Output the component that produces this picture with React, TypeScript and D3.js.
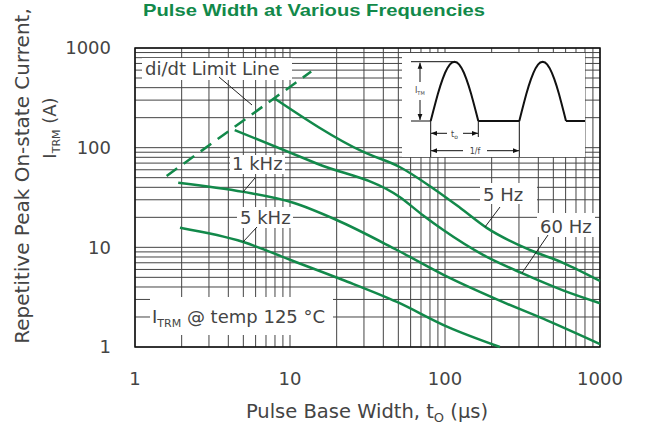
import React from 'react';
import * as d3 from 'd3';

// pulse base width (µs) vs peak current (A)
const diDtLimit: [number, number][] = [[1.6, 52], [13.7, 580]];
const curve5Hz: [number, number][] = [[8, 310], [30, 90], [51, 64], [84, 39], [125, 25], [187, 15.6], [353, 9.4], [577, 7], [1000, 4.6]];
const curve60Hz: [number, number][] = [[4.4, 150], [15, 69], [51, 32], [72, 21], [97, 15], [176, 8.4], [314, 5.5], [577, 3.7], [1000, 2.75]];
const curve1kHz: [number, number][] = [[1.9, 44.5], [5, 36], [10.5, 28], [20, 18.8], [49, 9.4], [108, 4.9], [216, 3], [455, 1.85], [1000, 1.07]];
const curve5kHz: [number, number][] = [[1.95, 15.7], [5, 11.3], [10, 7.5], [22, 4.7], [49, 2.83], [103, 1.6], [226, 1]];

const xTickLabels = [1, 10, 100, 1000];
const yTickLabels = [1, 10, 100, 1000];

const GREEN = '#12894a';
const FONT = 'DejaVu Sans, Verdana, sans-serif';
const TITLE_FONT = 'Liberation Sans, Arial, sans-serif';
const TXT = '#444';
const W = 645;
const H = 427;

const App: React.FC = () => {
  const x = d3.scaleLog().domain([1, 1000]).range([135, 600]);
  const y = d3.scaleLog().domain([1, 1000]).range([347, 48]);

  const line = d3.line<[number, number]>()
    .x(d => x(d[0]))
    .y(d => y(d[1]))
    .curve(d3.curveMonotoneX);

  const gridX = x.ticks();
  const gridY = y.ticks();

  // white label boxes that hide the grid
  const boxes = [
    { x: 142, y: 58, w: 150, h: 22 },
    { x: 230, y: 155, w: 55, h: 19 },
    { x: 237, y: 207, w: 56, h: 21 },
    { x: 480, y: 183, w: 57, h: 21 },
    { x: 537, y: 213, w: 58, h: 24 },
    { x: 150, y: 297, w: 183, h: 38 },
    { x: 402, y: 53, w: 183, h: 104 },
  ];

  // inset waveform (illustration)
  const base = 121;
  const peak = 61.7;
  const arch = (x0: number, x1: number) => {
    const pts: [number, number][] = d3.range(0, 21).map(k => {
      const u = k / 20;
      return [x0 + (x1 - x0) * u, base - (base - peak) * Math.sin(Math.PI * u)];
    });
    return d3.line()(pts) as string;
  };

  const leaders = [
    [219, 77, 252, 105],
    [255, 178, 243, 192],
    [257, 227, 243, 242],
    [500, 207, 485, 227],
    [548, 235, 522, 273],
  ];

  return (
    <svg width={W} height={H} style={{ position: 'absolute', left: 0, top: 0, background: '#fff' }}>
      <defs>
        <marker id="arr" viewBox="0 0 10 10" refX="10" refY="5" markerWidth="7" markerHeight="6" orient="auto-start-reverse">
          <path d="M0,1 L10,5 L0,9 Z" fill="#111" />
        </marker>
      </defs>

      <text x={314} y={16} textAnchor="middle" fontFamily={TITLE_FONT} fontWeight="bold" fontSize={17}
        fill={GREEN} textLength={342} lengthAdjust="spacingAndGlyphs">
        Pulse Width at Various Frequencies
      </text>

      {/* grid */}
      <g stroke="#444" strokeWidth={1}>
        {gridX.map((t, i) => (
          <line key={'gx' + i} x1={x(t)} x2={x(t)} y1={48} y2={347} />
        ))}
        {gridY.map((t, i) => (
          <line key={'gy' + i} x1={135} x2={600} y1={y(t)} y2={y(t)} />
        ))}
      </g>
      <rect x={135} y={48} width={465} height={299} fill="none" stroke="#111" strokeWidth={1.5} />

      {boxes.map((b, i) => (
        <rect key={'b' + i} x={b.x} y={b.y} width={b.w} height={b.h} fill="#fff" />
      ))}

      {/* curves */}
      <path d={line(diDtLimit) as string} fill="none" stroke={GREEN} strokeWidth={2.5} strokeDasharray="13,8" />
      {[curve5Hz, curve60Hz, curve1kHz, curve5kHz].map((c, i) => (
        <path key={'c' + i} d={line(c) as string} fill="none" stroke={GREEN} strokeWidth={2.5} />
      ))}

      {/* leader lines */}
      {leaders.map((l, i) => (
        <line key={'l' + i} x1={l[0]} y1={l[1]} x2={l[2]} y2={l[3]} stroke="#222" strokeWidth={1} />
      ))}

      {/* labels */}
      <g fontFamily={FONT} fontSize={18} fill={TXT}>
        <text x={145} y={75}>di/dt Limit Line</text>
        <text x={232} y={170}>1 kHz</text>
        <text x={240} y={224}>5 kHz</text>
        <text x={483} y={201}>5 Hz</text>
        <text x={540} y={233}>60 Hz</text>
        <text x={152} y={323}>
          I<tspan fontSize={11} dy={4}>TRM</tspan>
          <tspan dy={-4}> @ temp 125 °C</tspan>
        </text>
      </g>

      {/* inset waveform */}
      <g fill="none" stroke="#111" strokeWidth={2}>
        <path d={arch(430.7, 478.3)} />
        <path d={arch(519.3, 566)} />
        <line x1={478.3} y1={base} x2={519.3} y2={base} />
        <line x1={566} y1={base} x2={585} y2={base} />
      </g>
      <g stroke="#111" strokeWidth={1}>
        <line x1={411} y1={peak} x2={455} y2={peak} />
        <line x1={411} y1={base} x2={430.7} y2={base} />
        <line x1={420} y1={peak + 1} x2={420} y2={82} markerStart="url(#arr)" />
        <line x1={420} y1={100} x2={420} y2={base - 1} markerEnd="url(#arr)" />
        <line x1={430.7} y1={base} x2={430.7} y2={157} />
        <line x1={478.3} y1={base} x2={478.3} y2={137} />
        <line x1={519.3} y1={base} x2={519.3} y2={157} />
        <line x1={431} y1={133.3} x2={447} y2={133.3} markerStart="url(#arr)" />
        <line x1={463} y1={133.3} x2={478} y2={133.3} markerEnd="url(#arr)" />
        <line x1={431} y1={150.7} x2={463} y2={150.7} markerStart="url(#arr)" />
        <line x1={487} y1={150.7} x2={519} y2={150.7} markerEnd="url(#arr)" />
      </g>
      <g fontFamily={FONT} fill={TXT}>
        <text x={415} y={93} fontSize={8}>
          I<tspan fontSize={5} dy={2}>TM</tspan>
        </text>
        <text x={451} y={137} fontSize={8}>
          t<tspan fontSize={6} dy={2}>o</tspan>
        </text>
        <text x={475} y={154} fontSize={8} textAnchor="middle">1/f</text>
      </g>

      {/* axes labels */}
      <g fontFamily={FONT} fill={TXT}>
        {yTickLabels.map(t => (
          <text key={'yt' + t} x={111} y={y(t)} dy="0.36em" textAnchor="end" fontSize={18}>{t}</text>
        ))}
        {xTickLabels.map(t => (
          <text key={'xt' + t} x={x(t)} y={385} textAnchor="middle" fontSize={18}>{t}</text>
        ))}
        <text x={367} y={418} textAnchor="middle" fontSize={19.5}>
          Pulse Base Width, t<tspan fontSize={13} dy={4}>O</tspan>
          <tspan dy={-4}> (µs)</tspan>
        </text>
        <text transform="translate(29,176) rotate(-90)" textAnchor="middle" fontSize={20}>
          Repetitive Peak On-state Current,
        </text>
        <text transform="translate(56,128) rotate(-90)" textAnchor="middle" fontSize={18}>
          I<tspan fontSize={11} dy={4}>TRM</tspan>
          <tspan dy={-4}> (A)</tspan>
        </text>
      </g>
    </svg>
  );
};

export default App;
